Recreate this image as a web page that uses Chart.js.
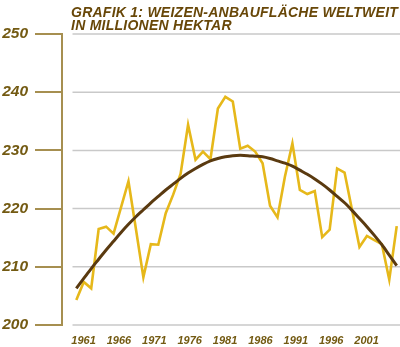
<!DOCTYPE html>
<html>
<head>
<meta charset="utf-8">
<script src="https://cdn.jsdelivr.net/npm/chart.js@4.4.1/dist/chart.umd.min.js"></script>
<style>
  html, body { margin: 0; padding: 0; background: #ffffff; }
  #wrap { width: 400px; height: 347px; position: relative; }
</style>
</head>
<body>
<div id="wrap"><canvas id="c" width="400" height="347"></canvas></div>
<script>
const titleLines = ["GRAFIK 1: WEIZEN-ANBAUFLÄCHE WELTWEIT", "IN MILLIONEN HEKTAR"];
const years = [1961,1962,1963,1964,1965,1966,1967,1968,1969,1970,1971,1972,1973,1974,1975,1976,1977,1978,1979,1980,1981,1982,1983,1984,1985,1986,1987,1988,1989,1990,1991,1992,1993,1994,1995,1996,1997,1998,1999,2000,2001,2002,2003,2004];
const area = [204.3,207.4,206.3,216.5,216.9,215.7,220.2,224.7,216.5,208.2,213.9,213.8,219.2,222.4,226.0,234.4,228.4,229.8,228.5,237.2,239.2,238.4,230.3,230.8,229.8,227.8,220.5,218.5,225.5,231.2,223.2,222.5,223.0,215.1,216.4,226.9,226.2,219.8,213.4,215.3,214.6,213.9,207.8,217.0];
const trend = [206.3,208.0,209.7,211.3,212.9,214.4,215.9,217.3,218.6,219.8,221.0,222.1,223.2,224.2,225.2,226.1,226.9,227.6,228.2,228.6,228.9,229.1,229.15,229.1,229.0,228.9,228.6,228.2,227.8,227.3,226.6,225.9,225.1,224.2,223.2,222.1,221.0,219.7,218.3,216.9,215.4,213.8,212.0,210.2];
const yearTicks = [1961,1966,1971,1976,1981,1986,1991,1996,2001];
const yTicks = [200,210,220,230,240,250];

const COL_TITLE = '#684708';
const COL_LABEL = '#735a12';
const COL_AXIS = '#a68f50';
const COL_GRID = '#c9c9c9';
const COL_AREA = '#e6b81a';
const COL_TREND = '#5a3a10';

const gridPlugin = {
  id: 'grayGrid',
  beforeDatasetsDraw(chart) {
    const y = chart.scales.y, ca = chart.chartArea, ctx = chart.ctx;
    ctx.save();
    ctx.strokeStyle = COL_GRID;
    ctx.lineWidth = 1.5;
    yTicks.forEach(v => {
      const py = y.getPixelForValue(v);
      ctx.beginPath();
      ctx.moveTo(ca.left + 10.5, py);
      ctx.lineTo(ca.right, py);
      ctx.stroke();
    });
    ctx.restore();
  }
};

const titlePlugin = {
  id: 'twoLineTitle',
  afterDraw(chart) {
    const ctx = chart.ctx;
    ctx.save();
    ctx.fillStyle = COL_TITLE;
    ctx.font = "italic bold 14px 'Liberation Sans Narrow', 'Liberation Sans', Arial, sans-serif";
    if ('letterSpacing' in ctx) ctx.letterSpacing = '0.25px';
    ctx.textBaseline = 'alphabetic';
    ctx.textAlign = 'left';
    ctx.fillText(titleLines[0], 71, 16.8);
    ctx.fillText(titleLines[1], 71, 30.2);
    ctx.restore();
  }
};

new Chart(document.getElementById('c'), {
  type: 'line',
  data: {
    datasets: [
      {
        label: 'Trend',
        data: years.map((yr, i) => ({ x: yr, y: trend[i] })),
        borderColor: COL_TREND,
        borderWidth: 3,
        pointRadius: 0,
        tension: 0.3,
        fill: false,
        xAxisID: 'x',
        yAxisID: 'y'
      },
      {
        label: 'Anbaufläche',
        data: years.map((yr, i) => ({ x: yr, y: area[i] })),
        borderColor: COL_AREA,
        borderWidth: 2.6,
        pointRadius: 0,
        tension: 0,
        borderJoinStyle: 'miter',
        fill: false,
        xAxisID: 'x',
        yAxisID: 'y'
      }
    ]
  },
  options: {
    responsive: false,
    animation: false,
    devicePixelRatio: 1,
    layout: { padding: { top: 34, left: 0, right: 0, bottom: 0 } },
    plugins: { legend: { display: false }, tooltip: { enabled: false }, title: { display: false } },
    scales: {
      x: {
        type: 'linear',
        display: false,
        min: 1959.08,
        max: 2004.44
      },
      x2: {
        type: 'linear',
        position: 'bottom',
        min: 1957.96,
        max: 2005.73,
        afterBuildTicks: s => { s.ticks = yearTicks.map(v => ({ value: v })); },
        afterFit: s => { s.height = 22; },
        grid: { display: false, drawTicks: false },
        border: { display: false },
        ticks: {
          autoSkip: false,
          maxRotation: 0,
          padding: 9,
          color: COL_LABEL,
          font: { family: "'Liberation Sans Narrow', 'Liberation Sans', Arial, sans-serif", size: 11, style: 'italic', weight: 'bold' },
          callback: v => String(v)
        }
      },
      y: {
        type: 'linear',
        position: 'left',
        min: 200,
        max: 250,
        afterBuildTicks: s => { s.ticks = yTicks.map(v => ({ value: v })); },
        afterFit: s => { s.width = 62; },
        grid: { drawOnChartArea: false, drawTicks: true, tickLength: 27, color: COL_AXIS, lineWidth: 2 },
        border: { display: true, color: COL_AXIS, width: 2 },
        ticks: {
          padding: 7,
          color: COL_LABEL,
          font: { family: "'Liberation Sans', Arial, sans-serif", size: 15.5, style: 'italic', weight: 'bold' },
          callback: v => String(v)
        }
      }
    }
  },
  plugins: [gridPlugin, titlePlugin]
});
</script>
</body>
</html>
